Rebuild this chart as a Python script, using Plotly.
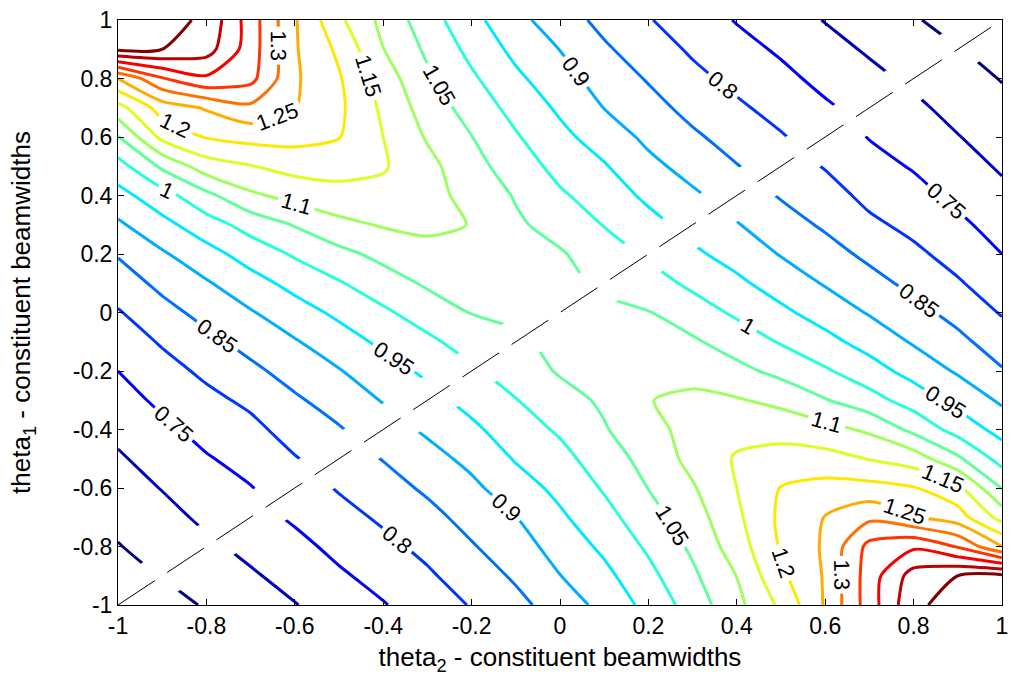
import plotly.graph_objects as go

# Grid of constituent beamwidth offsets
theta2 = [-1.0, -0.9, -0.8, -0.7, -0.6, -0.5, -0.4, -0.3, -0.2, -0.1, 0.0,
          0.1, 0.2, 0.3, 0.4, 0.5, 0.6, 0.7, 0.8, 0.9, 1.0]
theta1 = [-1.0, -0.9, -0.8, -0.7, -0.6, -0.5, -0.4, -0.3, -0.2, -0.1, 0.0,
          0.1, 0.2, 0.3, 0.4, 0.5, 0.6, 0.7, 0.8, 0.9, 1.0]

# Ratio surface, one row per theta1 value (bottom to top); undefined where theta1 == theta2
row_m10 = [None, 0.633, 0.654, 0.676, 0.698, 0.722, 0.747, 0.775, 0.803, 0.836, 0.873, 0.915, 0.965, 1.022, 1.086, 1.16, 1.255, 1.375, 1.49, 1.52, 1.54]
row_m09 = [0.635, None, 0.672, 0.694, 0.717, 0.743, 0.767, 0.793, 0.824, 0.857, 0.899, 0.937, 0.986, 1.041, 1.101, 1.19, 1.255, 1.375, 1.471, 1.50, 1.51]
row_m08 = [0.648, 0.667, None, 0.713, 0.736, 0.763, 0.787, 0.813, 0.846, 0.878, 0.920, 0.960, 1.008, 1.059, 1.125, 1.205, 1.257, 1.365, 1.392, 1.346, 1.25]
row_m07 = [0.661, 0.684, 0.710, None, 0.757, 0.783, 0.808, 0.835, 0.867, 0.899, 0.942, 0.983, 1.030, 1.077, 1.14, 1.21, 1.252, 1.289, 1.255, 1.223, 1.131]
row_m06 = [0.677, 0.702, 0.728, 0.748, None, 0.804, 0.830, 0.858, 0.889, 0.927, 0.963, 1.005, 1.051, 1.095, 1.15, 1.202, 1.217, 1.216, 1.203, 1.163, 1.048]
row_m05 = [0.694, 0.720, 0.746, 0.767, 0.797, None, 0.852, 0.882, 0.913, 0.954, 0.984, 1.026, 1.067, 1.115, 1.155, 1.169, 1.167, 1.148, 1.126, 1.059, 0.98]
row_m04 = [0.712, 0.739, 0.766, 0.787, 0.820, 0.846, None, 0.908, 0.940, 0.976, 1.007, 1.046, 1.083, 1.118, 1.135, 1.132, 1.117, 1.091, 1.037, 0.980, 0.933]
row_m03 = [0.731, 0.760, 0.787, 0.810, 0.843, 0.871, 0.903, None, 0.966, 0.998, 1.031, 1.058, 1.099, 1.107, 1.104, 1.087, 1.053, 1.019, 0.978, 0.935, 0.892]
row_m02 = [0.75, 0.782, 0.810, 0.839, 0.869, 0.897, 0.931, 0.959, None, 1.024, 1.055, 1.068, 1.091, 1.089, 1.064, 1.036, 1.006, 0.971, 0.932, 0.894, 0.854]
row_m01 = [0.773, 0.805, 0.837, 0.867, 0.896, 0.928, 0.960, 0.990, 1.021, None, 1.063, 1.068, 1.071, 1.057, 1.027, 0.996, 0.965, 0.931, 0.895, 0.863, 0.824]
row_p00 = [0.796, 0.833, 0.866, 0.896, 0.929, 0.960, 0.992, 1.023, 1.052, 1.06, None, 1.06, 1.052, 1.023, 0.992, 0.960, 0.929, 0.896, 0.866, 0.833, 0.796]
row_p01 = [0.824, 0.863, 0.895, 0.931, 0.965, 0.996, 1.027, 1.057, 1.071, 1.068, 1.063, None, 1.021, 0.990, 0.960, 0.928, 0.896, 0.867, 0.837, 0.805, 0.773]
row_p02 = [0.854, 0.894, 0.932, 0.971, 1.006, 1.036, 1.064, 1.089, 1.091, 1.068, 1.055, 1.024, None, 0.959, 0.931, 0.897, 0.869, 0.839, 0.810, 0.782, 0.75]
row_p03 = [0.892, 0.935, 0.978, 1.019, 1.053, 1.087, 1.104, 1.107, 1.099, 1.058, 1.031, 0.998, 0.966, None, 0.903, 0.871, 0.843, 0.810, 0.787, 0.760, 0.731]
row_p04 = [0.933, 0.980, 1.037, 1.091, 1.117, 1.132, 1.135, 1.118, 1.083, 1.046, 1.007, 0.976, 0.940, 0.908, None, 0.846, 0.820, 0.787, 0.766, 0.739, 0.712]
row_p05 = [0.98, 1.059, 1.126, 1.148, 1.167, 1.169, 1.155, 1.115, 1.067, 1.026, 0.984, 0.954, 0.913, 0.882, 0.852, None, 0.797, 0.767, 0.746, 0.720, 0.694]
row_p06 = [1.048, 1.163, 1.203, 1.216, 1.217, 1.202, 1.15, 1.095, 1.051, 1.005, 0.963, 0.927, 0.889, 0.858, 0.830, 0.804, None, 0.748, 0.728, 0.702, 0.677]
row_p07 = [1.131, 1.223, 1.255, 1.289, 1.252, 1.21, 1.14, 1.077, 1.030, 0.983, 0.942, 0.899, 0.867, 0.835, 0.808, 0.783, 0.757, None, 0.710, 0.684, 0.661]
row_p08 = [1.25, 1.346, 1.392, 1.365, 1.257, 1.205, 1.125, 1.059, 1.008, 0.960, 0.920, 0.878, 0.846, 0.813, 0.787, 0.763, 0.736, 0.713, None, 0.667, 0.648]
row_p09 = [1.51, 1.50, 1.471, 1.375, 1.255, 1.19, 1.101, 1.041, 0.986, 0.937, 0.899, 0.857, 0.824, 0.793, 0.767, 0.743, 0.717, 0.694, 0.672, None, 0.635]
row_p10 = [1.54, 1.52, 1.49, 1.375, 1.255, 1.16, 1.086, 1.022, 0.965, 0.915, 0.873, 0.836, 0.803, 0.775, 0.747, 0.722, 0.698, 0.676, 0.654, 0.633, None]

ratio = [row_m10, row_m09, row_m08, row_m07, row_m06, row_m05, row_m04,
         row_m03, row_m02, row_m01, row_p00, row_p01, row_p02, row_p03,
         row_p04, row_p05, row_p06, row_p07, row_p08, row_p09, row_p10]

# Contour levels
level_start = 0.65
level_end = 1.5
level_step = 0.05

# Equal-beamwidth reference line
diag_x = [-1, 1]
diag_y = [-1, 1]

tick_vals = [-1, -0.8, -0.6, -0.4, -0.2, 0, 0.2, 0.4, 0.6, 0.8, 1]
tick_text = ["-1", "-0.8", "-0.6", "-0.4", "-0.2", "0", "0.2", "0.4", "0.6", "0.8", "1"]

jet = [[0.0, "rgb(0,0,128)"], [0.125, "rgb(0,0,255)"], [0.375, "rgb(0,255,255)"],
       [0.625, "rgb(255,255,0)"], [0.875, "rgb(255,0,0)"], [1.0, "rgb(128,0,0)"]]

font_family = "Arial, Liberation Sans, Helvetica, sans-serif"

fig = go.Figure()
fig.add_trace(go.Contour(
    x=theta2, y=theta1, z=ratio,
    colorscale=jet, showscale=False, connectgaps=False,
    contours=dict(coloring="lines", start=level_start, end=level_end, size=level_step,
                  showlabels=True,
                  labelfont=dict(family=font_family, size=22, color="black")),
    line=dict(width=3, smoothing=0.7),
    hoverinfo="skip",
))
fig.add_trace(go.Scatter(
    x=diag_x, y=diag_y, mode="lines",
    line=dict(color="black", width=1, dash="44px,15px"),
    hoverinfo="skip", showlegend=False,
))

axis_common = dict(
    range=[-1, 1], tickvals=tick_vals, ticktext=tick_text,
    ticks="inside", ticklen=6, tickwidth=1, tickcolor="black",
    showline=True, linecolor="black", linewidth=1, mirror="ticks",
    showgrid=False, zeroline=False,
    tickfont=dict(family=font_family, size=23, color="black"),
)

fig.update_layout(
    width=1015, height=685,
    margin=dict(l=118, r=7, t=18, b=80),
    paper_bgcolor="white", plot_bgcolor="white",
    showlegend=False,
    xaxis=dict(axis_common,
               title=dict(text="theta<sub>2</sub> - constituent beamwidths",
                          font=dict(family=font_family, size=26, color="black"),
                          standoff=10)),
    yaxis=dict(axis_common,
               title=dict(text="theta<sub>1</sub> - constituent beamwidths",
                          font=dict(family=font_family, size=26, color="black"),
                          standoff=34)),
)

fig.write_html("out.html")
